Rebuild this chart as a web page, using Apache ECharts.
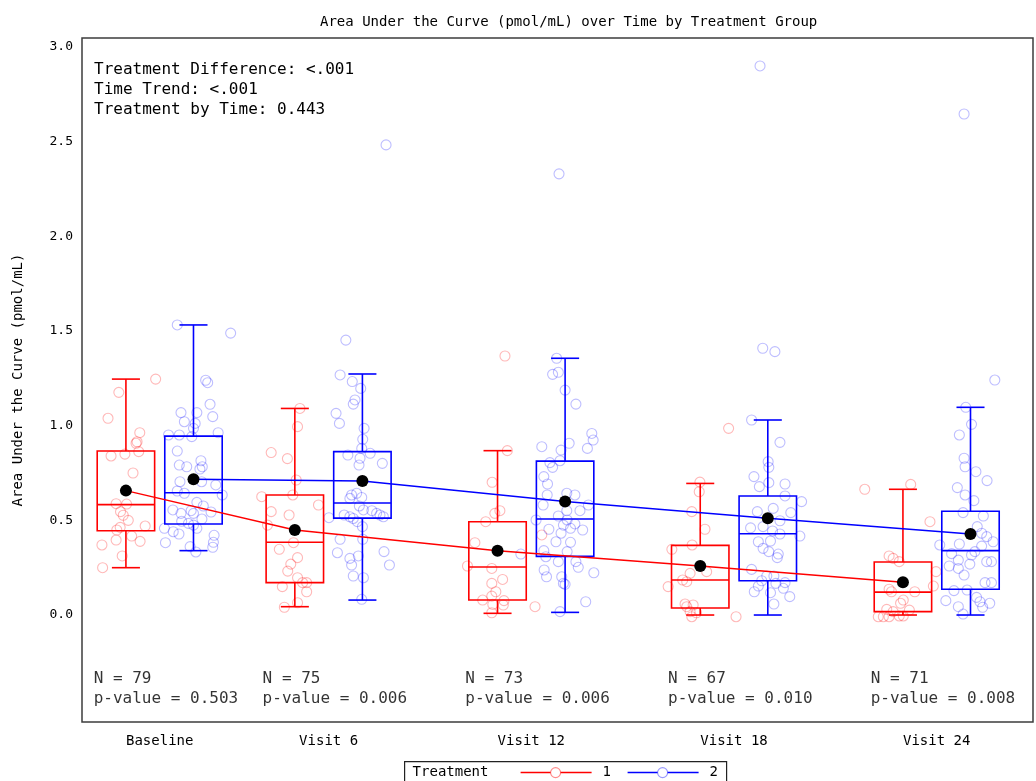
<!DOCTYPE html>
<html>
<head>
<meta charset="utf-8">
<script src="https://cdn.jsdelivr.net/npm/echarts@6/dist/echarts.min.js"></script>
<style>
html,body{margin:0;padding:0;background:#fff;}
#chart{width:1036px;height:781px;}
</style>
</head>
<body>
<div id="chart"></div>
<script>
// ---------------- data ----------------
const visits = ['Baseline', 'Visit 6', 'Visit 12', 'Visit 18', 'Visit 24'];
const visitPos = [1, 6, 12, 18, 24];
const nCounts = [79, 75, 73, 67, 71];
const pValues = ['0.503', '0.006', '0.006', '0.010', '0.008'];
const yTicks = [0, 0.5, 1.0, 1.5, 2.0, 2.5, 3.0];
const annotations = ['Treatment Difference: <.001', 'Time Trend: <.001', 'Treatment by Time: 0.443'];

// box stats: [whiskerLow, Q1, median, Q3, whiskerHigh]
const boxT1 = [
  [0.25, 0.445, 0.583, 0.866, 1.246],
  [0.044, 0.171, 0.384, 0.634, 1.091],
  [0.009, 0.079, 0.254, 0.493, 0.868],
  [0.0, 0.037, 0.185, 0.368, 0.695],
  [0.0, 0.018, 0.121, 0.280, 0.664]
];
const boxT2 = [
  [0.34, 0.481, 0.646, 0.945, 1.532],
  [0.079, 0.512, 0.592, 0.863, 1.273],
  [0.014, 0.310, 0.507, 0.813, 1.356],
  [0.0, 0.181, 0.429, 0.629, 1.030],
  [0.0, 0.136, 0.340, 0.548, 1.097]
];
const meanT1 = [0.657, 0.449, 0.340, 0.259, 0.173];
const meanT2 = [0.717, 0.708, 0.600, 0.511, 0.428];

// jittered individual observations [x (time units, jittered), value]
const pointsT1 = [
  [0.88,1.246],[-0.21,1.176],[-0.53,1.039],[0.41,0.963],[0.33,0.915],[0.30,0.907],[0.38,0.863],[-0.03,0.850],
  [-0.44,0.840],[0.21,0.750],[-0.29,0.588],[0.02,0.586],[-0.16,0.546],[-0.08,0.527],[0.07,0.500],[0.57,0.470],
  [-0.17,0.463],[-0.27,0.449],[0.17,0.417],[0.42,0.389],[-0.29,0.396],[-0.71,0.370],[-0.11,0.312],[-0.69,0.250],
  [5.15,1.091],[5.08,0.995],[4.30,0.858],[4.78,0.826],[5.04,0.713],[4.94,0.634],[4.02,0.625],[5.70,0.581],
  [4.30,0.546],[4.83,0.528],[4.19,0.475],[4.96,0.382],[4.54,0.347],[5.08,0.303],[4.88,0.269],[4.79,0.232],
  [5.08,0.197],[5.23,0.171],[5.35,0.171],[4.63,0.150],[5.35,0.123],[5.08,0.065],[4.69,0.041],
  [11.22,1.368],[11.29,0.868],[10.84,0.701],[11.07,0.551],[10.92,0.537],[10.65,0.493],[10.33,0.382],[12.31,0.423],
  [10.11,0.259],[10.83,0.246],[11.15,0.188],[10.83,0.167],[10.95,0.123],[10.56,0.079],[10.83,0.100],[11.19,0.076],
  [11.17,0.053],[10.86,0.056],[10.83,0.012],[12.11,0.044],
  [17.84,0.986],[16.99,0.702],[16.97,0.651],[16.75,0.546],[17.14,0.453],[16.76,0.370],[16.16,0.347],[17.19,0.229],
  [16.70,0.220],[16.48,0.185],[16.60,0.176],[16.05,0.150],[16.55,0.058],[16.60,0.044],[16.79,0.053],[16.70,0.018],
  [16.89,0.012],[18.06,-0.009],[16.75,-0.009],
  [21.87,0.664],[23.23,0.690],[23.80,0.493],[22.59,0.312],[22.71,0.299],[22.89,0.282],[23.98,0.229],[23.90,0.153],
  [22.59,0.136],[22.66,0.123],[23.35,0.123],[23.01,0.079],[22.93,0.062],[22.52,0.030],[22.71,0.018],[23.19,0.026],
  [22.27,-0.009],[22.42,-0.009],[22.59,-0.009],[23.01,-0.005],[22.89,-0.005]
];
const pointsT2 = [
  [1.52,1.532],[3.10,1.489],[2.36,1.240],[2.42,1.227],[2.49,1.113],[1.63,1.069],[2.10,1.069],[2.57,1.048],
  [1.73,1.021],[2.05,1.012],[2.00,0.986],[1.26,0.951],[1.58,0.951],[1.95,0.942],[2.73,0.963],[1.52,0.866],
  [2.22,0.815],[2.26,0.783],[1.58,0.792],[1.80,0.783],[2.19,0.771],[1.60,0.704],[2.24,0.704],[2.66,0.687],
  [1.52,0.655],[1.73,0.643],[2.85,0.634],[2.10,0.595],[2.29,0.576],[1.39,0.555],[1.93,0.551],[2.52,0.544],
  [1.63,0.537],[2.00,0.537],[2.25,0.507],[1.65,0.495],[1.85,0.484],[2.00,0.475],[1.14,0.458],[2.10,0.458],
  [1.40,0.440],[1.57,0.428],[2.61,0.421],[1.17,0.382],[2.59,0.384],[2.57,0.358],[1.90,0.361],[2.07,0.333],
  [7.70,2.483],[6.51,1.452],[6.34,1.268],[6.70,1.233],[6.95,1.197],[6.78,1.136],[6.73,1.114],[6.22,1.065],
  [6.32,1.012],[7.05,0.986],[7.01,0.928],[6.98,0.880],[6.57,0.845],[7.23,0.854],[7.59,0.801],[6.93,0.828],
  [6.90,0.792],[6.83,0.643],[6.68,0.634],[6.63,0.616],[6.98,0.621],[6.91,0.576],[7.03,0.555],[7.28,0.551],
  [7.42,0.537],[7.52,0.528],[6.46,0.528],[6.63,0.519],[6.73,0.510],[6.01,0.514],[6.85,0.493],[7.00,0.467],
  [7.62,0.519],[6.34,0.400],[7.01,0.400],[6.26,0.329],[7.64,0.335],[6.88,0.312],[6.63,0.299],[7.80,0.264],
  [6.68,0.264],[6.73,0.206],[7.03,0.197],[6.98,0.083],
  [12.82,2.330],[12.75,1.356],[12.63,1.271],[12.80,1.282],[13.00,1.188],[13.32,1.114],[13.79,0.959],[13.83,0.924],
  [12.31,0.889],[12.88,0.871],[13.12,0.907],[13.66,0.880],[12.55,0.805],[12.85,0.815],[12.63,0.780],[12.37,0.731],
  [12.48,0.692],[12.47,0.634],[13.05,0.643],[13.29,0.634],[12.35,0.581],[13.69,0.581],[13.44,0.551],[13.05,0.551],
  [12.80,0.523],[12.14,0.502],[13.06,0.502],[13.29,0.481],[12.95,0.475],[13.16,0.458],[13.52,0.449],[12.52,0.453],
  [12.88,0.432],[12.73,0.387],[13.16,0.384],[13.06,0.335],[12.37,0.340],[11.69,0.322],[12.43,0.308],[12.80,0.282],
  [13.32,0.282],[13.39,0.252],[12.38,0.238],[12.45,0.202],[13.85,0.223],[12.90,0.202],[12.95,0.167],[13.00,0.162],
  [13.61,0.070],[12.85,0.018],
  [18.77,2.900],[18.85,1.409],[19.21,1.391],[18.52,1.030],[19.36,0.912],[19.01,0.810],[19.03,0.780],[18.59,0.731],
  [19.03,0.699],[18.75,0.678],[19.51,0.692],[19.51,0.629],[20.00,0.599],[18.69,0.546],[19.16,0.563],[19.68,0.541],
  [19.36,0.498],[18.86,0.467],[18.49,0.460],[19.14,0.444],[19.95,0.417],[19.36,0.428],[18.72,0.387],[19.08,0.391],
  [18.86,0.352],[19.03,0.335],[19.31,0.322],[19.28,0.303],[18.52,0.241],[18.97,0.206],[19.18,0.206],[18.82,0.181],
  [19.24,0.167],[19.51,0.171],[18.72,0.153],[19.46,0.141],[18.60,0.123],[19.08,0.118],[19.65,0.097],[19.18,0.058],
  [24.81,2.646],[25.72,1.241],[24.86,1.097],[25.03,1.007],[24.67,0.951],[24.81,0.828],[24.84,0.783],[25.16,0.757],
  [25.49,0.710],[24.61,0.673],[24.84,0.634],[25.10,0.604],[24.78,0.541],[25.38,0.523],[25.20,0.467],[25.33,0.432],
  [25.48,0.414],[25.67,0.387],[24.09,0.370],[24.67,0.375],[25.33,0.364],[25.13,0.335],[24.44,0.324],[25.03,0.317],
  [24.64,0.290],[25.48,0.282],[25.62,0.282],[24.98,0.269],[24.37,0.259],[24.64,0.246],[24.81,0.211],[25.43,0.171],
  [25.62,0.171],[24.51,0.129],[24.90,0.132],[25.18,0.093],[25.28,0.070],[24.27,0.076],[25.57,0.062],[25.36,0.041],
  [24.64,0.044],[24.78,0.005]
];

// ---------------- layout / style ----------------
const FONT = 'DejaVu Sans Mono';
const RED = '#ff0000', BLUE = '#0000ff';
const GROUP_SHIFT = 1;      // time units left/right of visit
const BOX_W = 1.70, CAP_W = 0.83;

function boxData(stats, shift) {
  return stats.map((s, i) => [visitPos[i] + shift].concat(s));
}
function meanData(m, shift) {
  return m.map((v, i) => [visitPos[i] + shift, v]);
}

function boxRender(color) {
  return function (params, api) {
    const x = api.value(0);
    const pLow = api.coord([x, api.value(1)]);
    const pQ1 = api.coord([x, api.value(2)]);
    const pMed = api.coord([x, api.value(3)]);
    const pQ3 = api.coord([x, api.value(4)]);
    const pHigh = api.coord([x, api.value(5)]);
    const hw = api.size([BOX_W, 0])[0] / 2;
    const cw = api.size([CAP_W, 0])[0] / 2;
    const cx = pMed[0];
    const st = { stroke: color, lineWidth: 1.6, fill: null };
    return {
      type: 'group',
      children: [
        { type: 'line', shape: { x1: cx, y1: pQ3[1], x2: cx, y2: pHigh[1] }, style: st },
        { type: 'line', shape: { x1: cx, y1: pQ1[1], x2: cx, y2: pLow[1] }, style: st },
        { type: 'line', shape: { x1: cx - cw, y1: pHigh[1], x2: cx + cw, y2: pHigh[1] }, style: st },
        { type: 'line', shape: { x1: cx - cw, y1: pLow[1], x2: cx + cw, y2: pLow[1] }, style: st },
        { type: 'rect', shape: { x: cx - hw, y: pQ3[1], width: 2 * hw, height: pQ1[1] - pQ3[1] }, style: { stroke: color, lineWidth: 1.6, fill: 'rgba(255,255,255,0)' } },
        { type: 'line', shape: { x1: cx - hw, y1: pMed[1], x2: cx + hw, y2: pMed[1] }, style: st }
      ]
    };
  };
}

const chart = echarts.init(document.getElementById('chart'), null, { renderer: 'canvas' });

const option = {
  animation: false,
  backgroundColor: '#fff',
  textStyle: { fontFamily: FONT },
  title: {
    text: 'Area Under the Curve (pmol/mL) over Time by Treatment Group',
    left: 315, top: 10,
    textStyle: { fontFamily: FONT, fontSize: 14, fontWeight: 'normal', color: '#000' }
  },
  grid: {
    left: 82, top: 38, right: 3, bottom: 59,
    show: true, borderColor: '#3c3c3c', borderWidth: 1.5, backgroundColor: 'transparent'
  },
  xAxis: {
    type: 'value', min: -1.3, max: 26.85,
    splitLine: { show: false }, axisTick: { show: false }, axisLine: { show: false },
    axisLabel: {
      customValues: visitPos,
      formatter: function (v) { const i = visitPos.indexOf(v); return i >= 0 ? visits[i] : ''; },
      fontFamily: FONT, fontSize: 14, color: '#000', margin: 12
    }
  },
  yAxis: {
    type: 'value', min: -0.565, max: 3.0475,
    name: 'Area Under the Curve (pmol/mL)',
    nameLocation: 'middle', nameGap: 57,
    nameTextStyle: { fontFamily: FONT, fontSize: 14, color: '#000' },
    splitLine: { show: false }, axisTick: { show: false }, axisLine: { show: false },
    axisLabel: {
      customValues: yTicks,
      formatter: function (v) { return v.toFixed(1); },
      fontFamily: FONT, fontSize: 13, color: '#000', margin: 9
    }
  },
  series: [
    {
      type: 'scatter', name: 't1pts', data: pointsT1, symbol: 'circle', symbolSize: 10, silent: true, z: 2,
      itemStyle: { color: 'rgba(0,0,0,0)', borderColor: 'rgba(255,0,0,0.35)', borderWidth: 1.1 }
    },
    {
      type: 'scatter', name: 't2pts', data: pointsT2, symbol: 'circle', symbolSize: 10, silent: true, z: 2,
      itemStyle: { color: 'rgba(0,0,0,0)', borderColor: 'rgba(0,0,255,0.32)', borderWidth: 1.1 }
    },
    {
      type: 'custom', name: 't1box', data: boxData(boxT1, -GROUP_SHIFT), renderItem: boxRender(RED),
      encode: { x: 0, y: [1, 2, 3, 4, 5] }, z: 3, silent: true
    },
    {
      type: 'custom', name: 't2box', data: boxData(boxT2, GROUP_SHIFT), renderItem: boxRender(BLUE),
      encode: { x: 0, y: [1, 2, 3, 4, 5] }, z: 3, silent: true
    },
    {
      type: 'line', name: '1', data: meanData(meanT1, -GROUP_SHIFT), symbol: 'none', z: 4,
      lineStyle: { color: RED, width: 1.5 }, silent: true
    },
    {
      type: 'line', name: '2', data: meanData(meanT2, GROUP_SHIFT), symbol: 'none', z: 4,
      lineStyle: { color: BLUE, width: 1.5 }, silent: true
    },
    {
      type: 'scatter', name: 'means', z: 5, silent: true, symbolSize: 12,
      data: meanData(meanT1, -GROUP_SHIFT).concat(meanData(meanT2, GROUP_SHIFT)),
      itemStyle: { color: '#000', opacity: 1 }
    },
    {
      type: 'scatter', name: 'nlabels', z: 6, silent: true, symbolSize: 0,
      data: visitPos.map(function (p, i) { return [p, -0.39]; }),
      label: {
        show: true, position: 'inside', align: 'left', offset: [-66, 0],
        formatter: function (p) { const i = p.dataIndex; return 'N = ' + nCounts[i] + '\np-value = ' + pValues[i]; },
        fontFamily: FONT, fontSize: 16, lineHeight: 20, color: '#000'
      }
    }
  ],
  graphic: [
    {
      type: 'text', left: 94, top: 60,
      style: { text: annotations.join('\n'), font: '16px "DejaVu Sans Mono"', lineHeight: 20, fill: '#000' }
    },
    {
      type: 'group', left: 404, top: 761,
      children: [
        { type: 'rect', shape: { x: 0, y: 0, width: 322, height: 26 }, style: { fill: '#fff', stroke: '#222', lineWidth: 1.2 } },
        { type: 'text', x: 8, y: 11, style: { text: 'Treatment', font: '14px "DejaVu Sans Mono"', fill: '#000', textVerticalAlign: 'middle' } },
        { type: 'line', shape: { x1: 116, y1: 11, x2: 187, y2: 11 }, style: { stroke: RED, lineWidth: 1.5 } },
        { type: 'circle', shape: { cx: 151, cy: 11, r: 5 }, style: { fill: '#fff', stroke: 'rgba(255,0,0,0.45)', lineWidth: 1.1 } },
        { type: 'text', x: 198, y: 11, style: { text: '1', font: '14px "DejaVu Sans Mono"', fill: '#000', textVerticalAlign: 'middle' } },
        { type: 'line', shape: { x1: 223, y1: 11, x2: 294, y2: 11 }, style: { stroke: BLUE, lineWidth: 1.5 } },
        { type: 'circle', shape: { cx: 258, cy: 11, r: 5 }, style: { fill: '#fff', stroke: 'rgba(0,0,255,0.4)', lineWidth: 1.1 } },
        { type: 'text', x: 305, y: 11, style: { text: '2', font: '14px "DejaVu Sans Mono"', fill: '#000', textVerticalAlign: 'middle' } }
      ]
    }
  ]
};
chart.setOption(option);
</script>
</body>
</html>
